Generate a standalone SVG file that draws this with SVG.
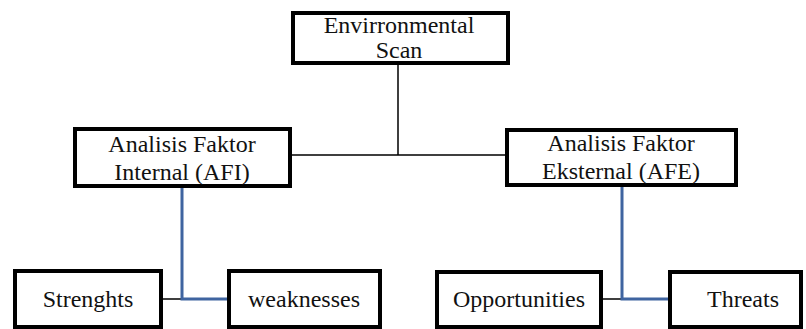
<svg xmlns="http://www.w3.org/2000/svg" width="806" height="329" viewBox="0 0 806 329">
<style>
.box{fill:#fff;stroke:#000;stroke-width:4}
.t{font-family:'Liberation Serif','Times New Roman',serif;font-size:24px;fill:#111;text-anchor:middle}
.k{stroke:#000;stroke-width:1.5;fill:none}
.b{stroke:#3f64a0;stroke-width:3;fill:none}
</style>
<rect width="806" height="329" fill="#fff"/>
<g id="connectors">
<path class="k" d="M398 65V155M292 155H505"/>
<path class="k" d="M163 299H182M603 299H622"/>
<path class="b" d="M182 188V299H227"/>
<path class="b" d="M622 187V299H668"/>
</g>
<g id="env"><rect class="box" x="293" y="13" width="215" height="50"/><text class="t" x="399" y="33">Envirronmental</text><text class="t" x="399" y="58">Scan</text></g>
<g id="afi"><rect class="box" x="75" y="129" width="215" height="57"/><text class="t" x="182" y="152">Analisis Faktor</text><text class="t" x="182" y="180">Internal (AFI)</text></g>
<g id="afe"><rect class="box" x="507" y="130" width="229" height="55"/><text class="t" x="621" y="151">Analisis Faktor</text><text class="t" x="621" y="179">Eksternal (AFE)</text></g>
<g id="strengths"><rect class="box" x="15" y="271" width="146" height="56"/><text class="t" x="88" y="307">Strenghts</text></g>
<g id="weaknesses"><rect class="box" x="229" y="271" width="151" height="56"/><text class="t" x="304" y="307">weaknesses</text></g>
<g id="opportunities"><rect class="box" x="437" y="272" width="164" height="55"/><text class="t" x="519" y="307">Opportunities</text></g>
<g id="threats"><rect class="box" x="670" y="272" width="131" height="55"/><text class="t" x="743" y="307">Threats</text></g>
</svg>
